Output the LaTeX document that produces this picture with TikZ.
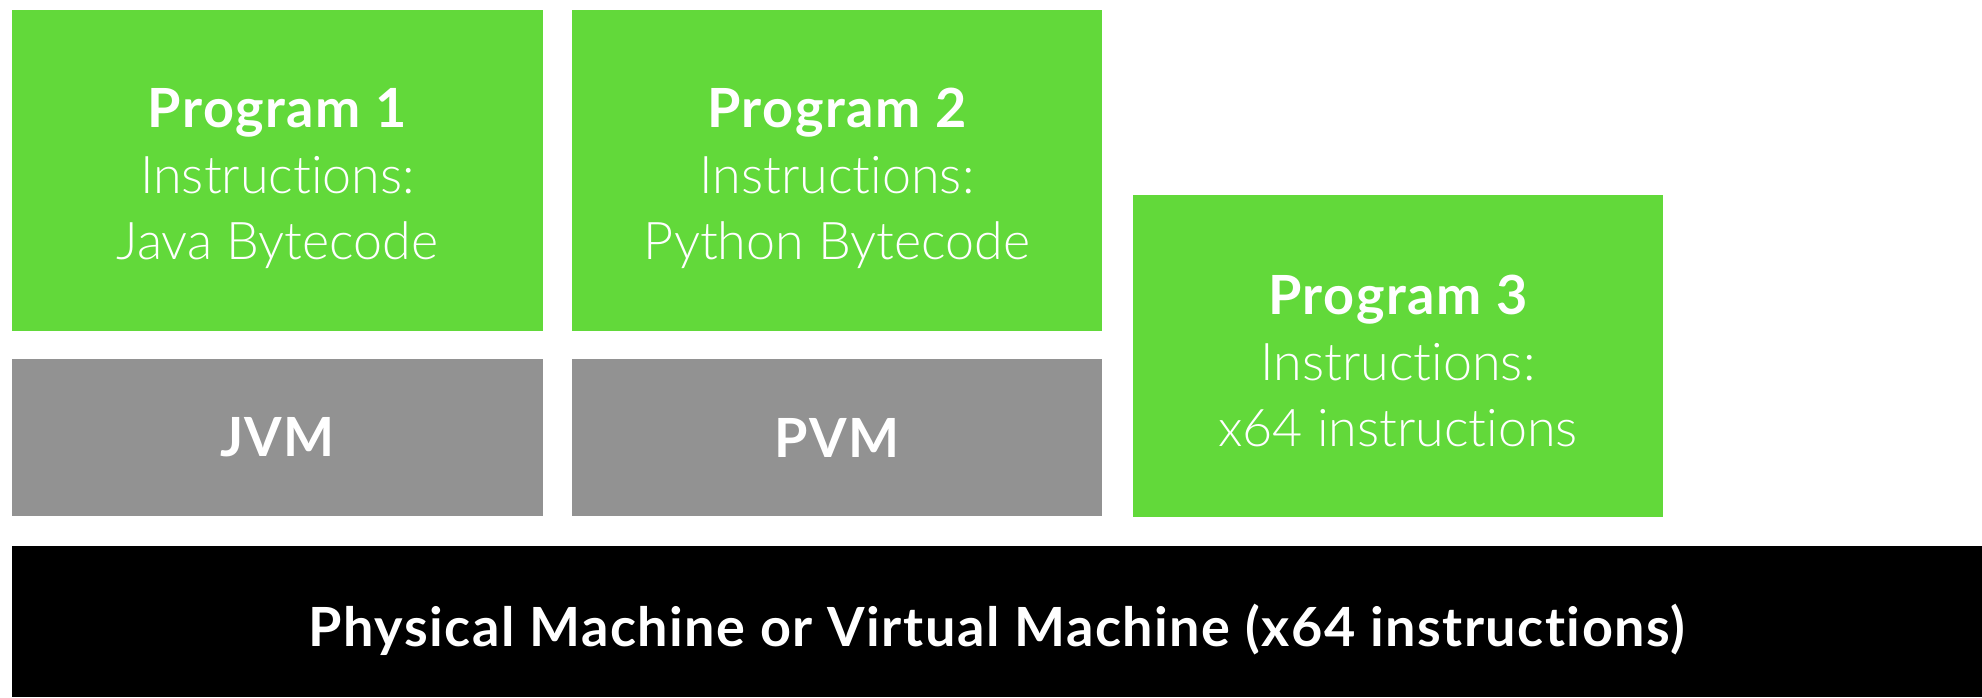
\documentclass[tikz,border=0pt]{standalone}
\usepackage{fontspec}
\setmainfont[Ligatures={NoCommon}]{Lato}
\newfontfamily\lightf[Ligatures={NoCommon}]{Lato Light}
\newfontfamily\boldf[Ligatures={NoCommon},LetterSpace=2.8]{Lato Bold}
\definecolor{pgreen}{HTML}{62D93A}
\definecolor{vmgray}{HTML}{929292}
\tikzset{
  blk/.style={rectangle, inner sep=0pt, outer sep=0pt, anchor=center},
  prog/.style={blk, fill=pgreen},
  vm/.style={blk, fill=vmgray},
  hw/.style={blk, fill=black},
  lbl/.style={inner sep=0pt, text=white, align=center, font=\fontsize{52}{66}\selectfont},
  blbl/.style={inner sep=0pt, text=white, align=center, font=\fontsize{54}{66}\boldf},
}
\begin{document}
\begin{tikzpicture}[x=1pt,y=-1pt]
\useasboundingbox (0,0) rectangle (1982,697);
\node[prog, minimum width=531pt, minimum height=321pt] (p1) at (277.5,170.5) {};
\node[prog, minimum width=530pt, minimum height=321pt] (p2) at (837,170.5) {};
\node[vm, minimum width=531pt, minimum height=157pt] (jvm) at (277.5,437.5) {};
\node[vm, minimum width=530pt, minimum height=157pt] (pvm) at (837,437.5) {};
\node[prog, minimum width=530pt, minimum height=322pt] (p3) at (1398,356) {};
\node[hw, minimum width=1970pt, minimum height=151pt] (hw) at (997,621.5) {};
\node[lbl, yshift=-8pt] (t1) at (p1.center)
  {{\fontsize{54}{66}\boldf Program 1}\\{\lightf Instructions:}\\{\lightf Java Bytecode}};
\node[lbl, yshift=-8pt] (t2) at (p2.center)
  {{\fontsize{54}{66}\boldf Program 2}\\{\lightf Instructions:}\\{\lightf Python Bytecode}};
\node[lbl, yshift=-5pt] (t3) at (p3.center)
  {{\fontsize{54}{66}\boldf Program 3}\\{\lightf Instructions:}\\{\lightf x64 instructions}};
\node[blbl] (tj) at (jvm.center) {JVM};
\node[blbl] (tp) at (pvm.center) {PVM};
\node[blbl, yshift=-8pt] (th) at (hw.center) {Physical Machine or Virtual Machine (x64 instructions)};
\end{tikzpicture}
\end{document}
